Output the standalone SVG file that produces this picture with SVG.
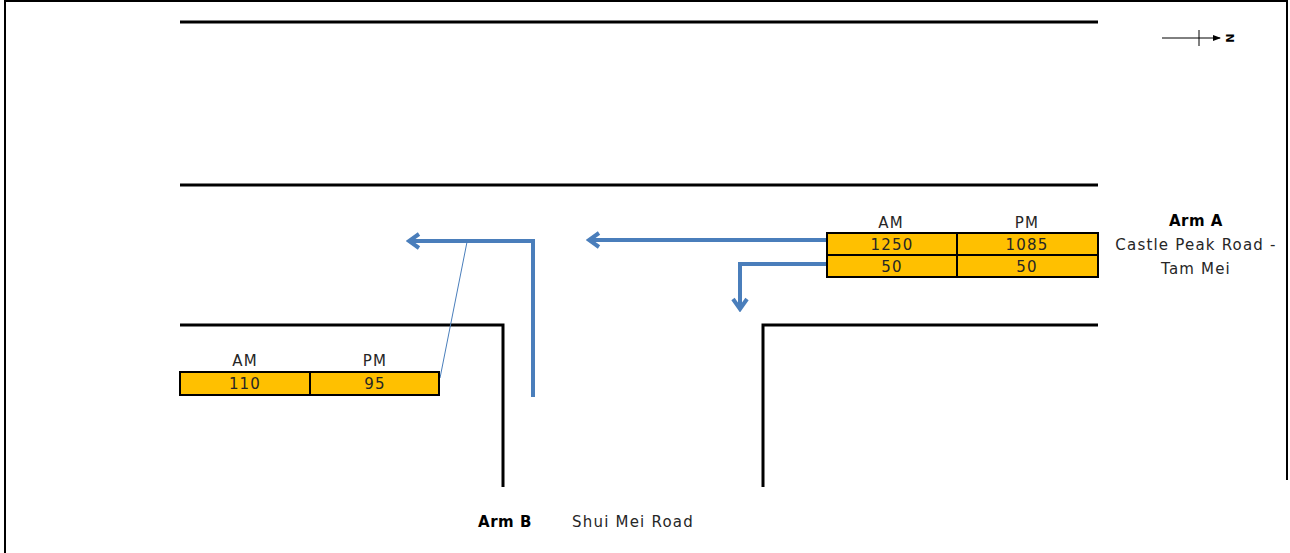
<svg xmlns="http://www.w3.org/2000/svg" width="1290" height="553" viewBox="0 0 1290 553">
<style>
.road{stroke:#000;stroke-width:3;fill:none}
.flow{stroke:#4A7EBB;stroke-width:4;fill:none}
.cell{fill:#FFC000;stroke:#000;stroke-width:2}
.t{font-family:"DejaVu Sans",sans-serif;font-size:15px;letter-spacing:1.2px;fill:#262626;text-anchor:middle}
.b{font-weight:bold;fill:#000;letter-spacing:0.5px}
</style>
<defs>
<marker id="ah" markerWidth="16" markerHeight="18" refX="13" refY="9" orient="auto" markerUnits="userSpaceOnUse" viewBox="0 0 16 18">
<path d="M3,2 L13,9 L3,16" fill="none" stroke="#4A7EBB" stroke-width="4" stroke-linejoin="miter"/>
</marker>
<marker id="na" markerWidth="8" markerHeight="8" refX="7" refY="4" orient="auto" markerUnits="userSpaceOnUse">
<path d="M0,1 L8,4 L0,7 Z" fill="#000"/>
</marker>
</defs>
<rect width="1290" height="553" fill="#fff"/>
<g id="frame" stroke="#000" stroke-width="2" fill="none">
<line x1="5" y1="0" x2="5" y2="553"/>
<line x1="4" y1="1" x2="1288" y2="1"/>
<line x1="1287" y1="0" x2="1287" y2="480"/>
</g>
<g id="roads">
<line class="road" x1="180" y1="22" x2="1098" y2="22"/>
<line class="road" x1="180" y1="185" x2="1098" y2="185"/>
<polyline class="road" points="180,325 503,325 503,487"/>
<polyline class="road" points="1098,325 763,325 763,487"/>
</g>
<g id="north">
<line x1="1162" y1="38" x2="1220" y2="38" stroke="#000" stroke-width="1" marker-end="url(#na)"/>
<line x1="1199" y1="30" x2="1199" y2="46" stroke="#000" stroke-width="1"/>
<text x="1229" y="38" transform="rotate(90 1229 38)" font-family="DejaVu Sans,sans-serif" font-weight="bold" font-size="11" text-anchor="middle" dominant-baseline="central">N</text>
</g>
<g id="connectors">
<line class="flow" x1="826" y1="240" x2="589" y2="240" marker-end="url(#ah)"/>
<polyline class="flow" points="826,264 740,264 740,309" marker-end="url(#ah)"/>
<polyline class="flow" points="533,397 533,241 409,241" marker-end="url(#ah)"/>
<line x1="467" y1="242" x2="440" y2="378" stroke="#4A7EBB" stroke-width="1"/>
</g>
<g id="tableA">
<text class="t" x="891" y="228">AM</text>
<text class="t" x="1027" y="228">PM</text>
<rect class="cell" x="827" y="233" width="130" height="22"/>
<rect class="cell" x="957" y="233" width="141" height="22"/>
<rect class="cell" x="827" y="255" width="130" height="22"/>
<rect class="cell" x="957" y="255" width="141" height="22"/>
<text class="t" x="892" y="250">1250</text>
<text class="t" x="1027" y="250">1085</text>
<text class="t" x="892" y="272">50</text>
<text class="t" x="1027" y="272">50</text>
</g>
<g id="tableB">
<text class="t" x="245" y="366">AM</text>
<text class="t" x="375" y="366">PM</text>
<rect class="cell" x="180" y="372" width="130" height="23"/>
<rect class="cell" x="310" y="372" width="129" height="23"/>
<text class="t" x="245" y="389">110</text>
<text class="t" x="375" y="389">95</text>
</g>
<g id="armA">
<text class="t b" x="1196" y="226">Arm A</text>
<text class="t" x="1196" y="250">Castle Peak Road -</text>
<text class="t" x="1196" y="274">Tam Mei</text>
</g>
<g id="armB">
<text class="t b" x="505" y="527">Arm B</text>
<text class="t" x="633" y="527">Shui Mei Road</text>
</g>
</svg>
